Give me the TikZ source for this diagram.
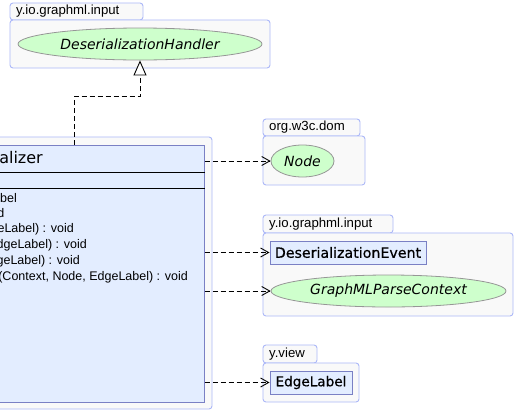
\documentclass[tikz,border=0pt]{standalone}
\usepackage{fontspec}
\setmainfont{DejaVu Sans}
\newfontfamily\medfont[FakeBold=0.5]{DejaVu Sans}
\newfontfamily\arialfont{Liberation Sans}
\usetikzlibrary{shapes.geometric,arrows.meta}
\definecolor{pkgfill}{RGB}{249,249,249}
\definecolor{pkgline}{RGB}{172,184,248}
\definecolor{clsfill}{RGB}{227,237,255}
\definecolor{clsline}{RGB}{122,128,196}
\definecolor{ellfill}{RGB}{206,255,204}
\definecolor{ellline}{RGB}{150,150,150}
\tikzset{
  pkg/.style={draw=pkgline, fill=pkgfill, rounded corners=3pt, line width=0.9pt, inner sep=0pt},
  pkglabel/.style={anchor=west, inner sep=0pt, font=\fontsize{13.2}{15}\arialfont},
  clsbox/.style={draw=clsline, fill=clsfill, line width=1pt, inner sep=0pt},
  ell/.style={ellipse, draw=ellline, fill=ellfill, inner sep=0pt, line width=0.8pt, font=\fontsize{14}{16}\selectfont\itshape},
  cbox/.style={draw=clsline, fill=clsfill, line width=1pt, inner sep=0pt},
  member/.style={anchor=east, inner sep=0pt, font=\fontsize{12.5}{14}\arialfont},
  dep/.style={dash pattern=on 5pt off 3pt, line width=0.9pt, -{Straight Barb[length=8pt,width=9pt,line width=0.9pt]}},
  inh/.style={dash pattern=on 5pt off 3pt, line width=0.9pt, -{Triangle[open,length=15pt,width=13pt,line width=0.9pt,fill=white]}},
}
\begin{document}
\begin{tikzpicture}[x=1pt,y=-1pt]
\clip (0,0) rectangle (517,413);
\fill[white] (0,0) rectangle (517,413);
% package 1
\node[pkg, minimum width=133pt, minimum height=17pt] (p1t) at (76.5,11.5) {};
\node[pkg, minimum width=260pt, minimum height=48pt] (p1b) at (140,44) {};
\node[pkglabel] (p1l) at (16,11.5) {y.io.graphml.input};
\node[ell, minimum width=244pt, minimum height=32pt] (dh) at (140,44) {DeserializationHandler};
% package 2
\node[pkg, minimum width=97pt, minimum height=17pt] (p2t) at (311.5,127.5) {};
\node[pkg, minimum width=102pt, minimum height=49pt] (p2b) at (314,160.5) {};
\node[pkglabel] (p2l) at (269,127.5) {org.w3c.dom};
\node[ell, minimum width=63pt, minimum height=32pt] (nd) at (302.5,161) {Node};
% package 3
\node[pkg, minimum width=130pt, minimum height=18pt] (p3t) at (328,224) {};
\node[pkg, minimum width=250pt, minimum height=83pt] (p3b) at (388,274.5) {};
\node[pkglabel] (p3l) at (269,224) {y.io.graphml.input};
\node[cbox, minimum width=156pt, minimum height=23pt, font=\fontsize{14.2}{16}\medfont] (de) at (348,252.5) {DeserializationEvent};
\node[ell, minimum width=235pt, minimum height=32pt] (gp) at (388.5,291) {GraphMLParseContext};
% package 4
\node[pkg, minimum width=54pt, minimum height=18pt] (p4t) at (290,354) {};
\node[pkg, minimum width=96pt, minimum height=39pt] (p4b) at (311,382.5) {};
\node[pkglabel] (p4l) at (269,354) {y.view};
\node[cbox, minimum width=82pt, minimum height=23pt, font=\fontsize{13.6}{16}\medfont] (el) at (311,382.5) {EdgeLabel};
% class package and class
\node[pkg, minimum width=222pt, minimum height=272pt] (cp) at (101,273) {};
\node[clsbox, minimum width=214pt, minimum height=257pt] (cls) at (97,273.5) {};
\draw[black, line width=0.9pt] (0,172) -- (cls.east |- 0,172);
\draw[black, line width=0.9pt] (0,188) -- (cls.east |- 0,188);
\node[anchor=east, inner sep=0pt, font=\fontsize{16}{18}\selectfont] (title) at (43,158) {alizer};
\node[member] (m1) at (17,198) {bel};
\node[member] (m2) at (4.5,213) {d};
\node[member] (m3) at (74,229) {eLabel) : void};
\node[member] (m4) at (87,245) {dgeLabel) : void};
\node[member] (m5) at (80,261) {geLabel) : void};
\node[member] (m6) at (188,277) {(Context, Node, EdgeLabel) : void};
% connectors
\coordinate (j) at (74,96);
\draw[inh] (cls.north -| j) -- (j) -| (dh.south);
\draw[dep] (cls.east |- nd.west) -- (nd.west);
\draw[dep] (cls.east |- de.west) -- (de.west);
\draw[dep] (cls.east |- gp.west) -- (gp.west);
\draw[dep] (cls.east |- el.west) -- (el.west);
\end{tikzpicture}
\end{document}
